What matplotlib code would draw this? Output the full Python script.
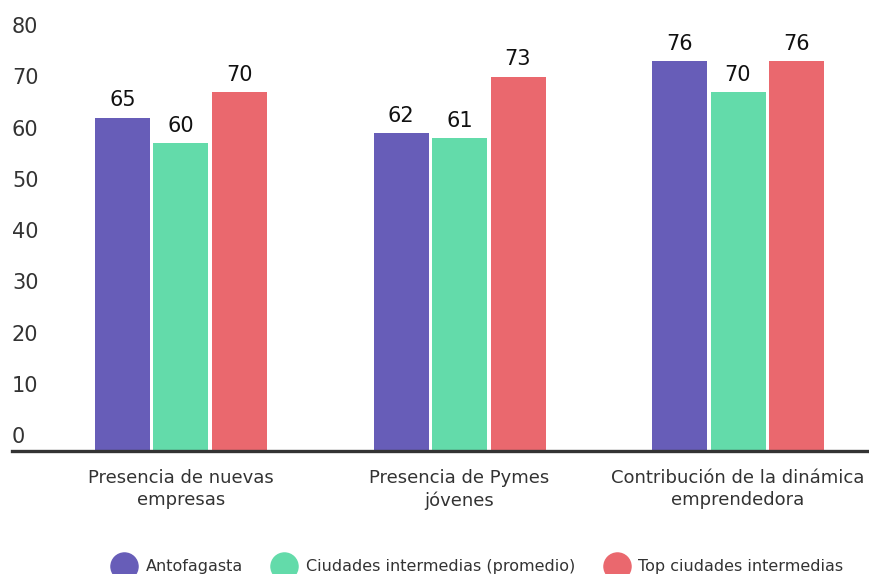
import matplotlib
matplotlib.use("Agg")
import matplotlib.pyplot as plt
from matplotlib.lines import Line2D
import numpy as np

categories = ["Presencia de nuevas\nempresas", "Presencia de Pymes\njóvenes",
              "Contribución de la dinámica\nemprendedora"]
series_names = ["Antofagasta", "Ciudades intermedias (promedio)", "Top ciudades intermedias"]
antofagasta = [65, 62, 76]
intermedias = [60, 61, 70]
top_ciudades = [70, 73, 76]
series_values = [antofagasta, intermedias, top_ciudades]
colors = ["#675DB8", "#63DBAA", "#EA686E"]
yticks = [0, 10, 20, 30, 40, 50, 60, 70, 80]

plt.rcParams['font.family'] = ['DejaVu Sans']

fig = plt.figure(figsize=(8.7, 5.74), dpi=100)
ax = fig.add_axes([12/870, 123/574, 858/870, 451/574])

x = np.arange(len(categories))
step = 278.5
width = 55/step
offset = 58.5/step
for i, (vals, col) in enumerate(zip(series_values, colors)):
    xs = x + (i - 1) * offset
    ax.bar(xs, vals, width=width, color=col, zorder=2)
    for xi, v in zip(xs, vals):
        ax.annotate(str(v), (xi, v), xytext=(0, 8), textcoords='offset points',
                    ha='center', va='baseline', fontsize=15, color='#111111')

ymax = 451/5.13
ax.set_ylim(0, ymax)
ax.set_xlim(-(181-12)/step, 2 + (870-738)/step)

for s in ['top', 'right', 'left']:
    ax.spines[s].set_visible(False)
ax.spines['bottom'].set_color('#333333')
ax.spines['bottom'].set_linewidth(2.4)
ax.set_yticks([])
for t in yticks:
    ax.annotate(str(t), (0, t), xycoords=('axes fraction', 'data'),
                xytext=(0, 5.5), textcoords='offset points',
                ha='left', va='baseline', fontsize=15, color='#333333')

ax.set_xticks(x)
ax.set_xticklabels(categories, fontsize=13, color='#333333', linespacing=1.3)
ax.tick_params(axis='x', length=0, pad=13)

handles = [Line2D([0], [0], marker='o', linestyle='none', markersize=19.5,
                  markerfacecolor=c, markeredgecolor=c) for c in colors]
fig.legend(handles, series_names, loc='center', bbox_to_anchor=(479/870, 1 - 567/574),
           ncol=3, frameon=False, fontsize=11.5, handletextpad=0.75,
           columnspacing=2.0, handlelength=1.2, labelcolor='#333333')

fig.savefig("out.png", dpi=100)
